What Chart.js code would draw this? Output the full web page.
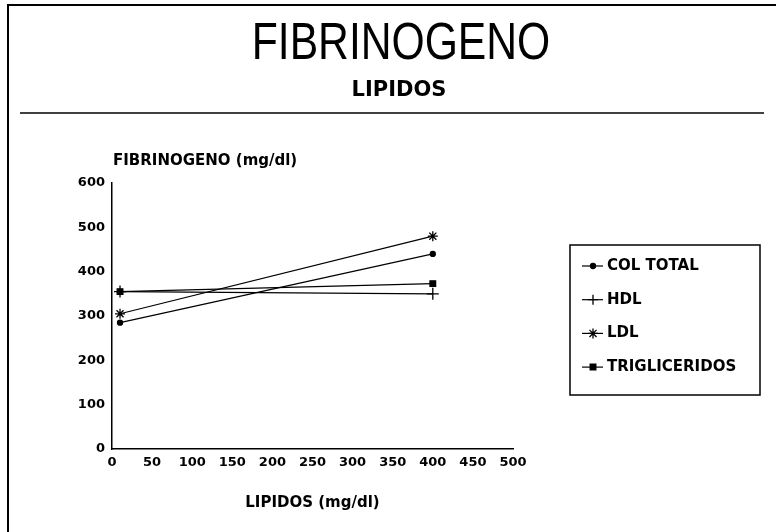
<!DOCTYPE html>
<html>
<head>
<meta charset="utf-8">
<script src="https://cdn.jsdelivr.net/npm/chart.js@4/dist/chart.umd.min.js"></script>
<style>
    html, body { margin: 0; padding: 0; background: #ffffff; }
    #wrap { width: 776px; height: 532px; position: relative; }
</style>
</head>
<body>
<div id="wrap"><canvas id="lineChart"></canvas></div>
<script>

// =====================================
// DATA
// =====================================

const lipidos = [10, 400];

const colTotal = [285, 440];
const hdl = [355, 350];
const ldl = [305, 480];
const trigliceridos = [355, 373];

const seriesNames = ["COL TOTAL", "HDL", "LDL", "TRIGLICERIDOS"];

const xTicks = [0, 50, 100, 150, 200, 250, 300, 350, 400, 450, 500];
const yTicks = [0, 100, 200, 300, 400, 500, 600];

const mainTitle = "FIBRINOGENO";
const subTitle = "LIPIDOS";
const yTitle = "FIBRINOGENO (mg/dl)";
const xTitle = "LIPIDOS (mg/dl)";

// =====================================
// HELPERS
// =====================================

const BOLD = "'DejaVu Sans', sans-serif";

function toPoints(values) {
    return lipidos.map((x, i) => ({ x: x, y: values[i] }));
}

function makeSet(label, values, style, radius) {
    return {
        label: label,
        data: toPoints(values),
        borderColor: "#000000",
        backgroundColor: "#000000",
        borderWidth: 1.2,
        pointStyle: style,
        pointRadius: radius,
        pointBorderWidth: 1.3,
        pointBorderColor: "#000000",
        pointBackgroundColor: "#000000",
        fill: false,
        tension: 0
    };
}

// frame, titles, rule, horizontal y title, boxed legend
const decorPlugin = {
    id: "decor",
    afterDraw(chart) {
        const ctx = chart.ctx;
        const area = chart.chartArea;

        ctx.save();
        ctx.strokeStyle = "#000000";
        ctx.fillStyle = "#000000";

        // outer frame (top + left)
        ctx.lineWidth = 2;
        ctx.beginPath();
        ctx.moveTo(8, 532);
        ctx.lineTo(8, 5);
        ctx.lineTo(776, 5);
        ctx.stroke();

        // main title, condensed
        ctx.save();
        ctx.translate(401, 45);
        ctx.scale(0.82, 1);
        ctx.font = "52px 'Liberation Sans', Arial, sans-serif";
        ctx.textAlign = "center";
        ctx.textBaseline = "middle";
        ctx.fillText(mainTitle, 0, 0);
        ctx.restore();

        // subtitle
        ctx.font = "bold 21px " + BOLD;
        ctx.textAlign = "center";
        ctx.textBaseline = "middle";
        ctx.fillText(subTitle, 399, 91);

        // rule under the titles
        ctx.lineWidth = 1.5;
        ctx.beginPath();
        ctx.moveTo(20, 113);
        ctx.lineTo(764, 113);
        ctx.stroke();

        // y axis title, horizontal above the axis
        ctx.font = "bold 15px " + BOLD;
        ctx.textAlign = "left";
        ctx.fillText(chart.options.scales.y.title.text, area.left + 1, 161);

        // legend box
        ctx.lineWidth = 1.5;
        ctx.strokeRect(570, 245, 190, 150);

        chart.data.datasets.forEach((ds, i) => {
            const y = 266 + i * 33.7;

            ctx.lineWidth = 1.2;
            ctx.beginPath();
            ctx.moveTo(582, y);
            ctx.lineTo(603, y);
            ctx.stroke();

            ctx.lineWidth = 1.3;
            Chart.helpers.drawPoint(ctx, {
                pointStyle: ds.pointStyle,
                radius: Math.min(ds.pointRadius, 5),
                rotation: 0,
                borderWidth: 1.3
            }, 593, y);

            ctx.font = "bold 15px " + BOLD;
            ctx.textAlign = "left";
            ctx.textBaseline = "middle";
            ctx.fillText(ds.label, 607, y);
        });

        ctx.restore();
    }
};

// =====================================
// LINE CHART
// =====================================

const ctxLine = document.getElementById("lineChart");

new Chart(ctxLine, {

    type: "line",

    data: {
        datasets: [
            makeSet(seriesNames[0], colTotal, "circle", 2.5),
            makeSet(seriesNames[1], hdl, "cross", 6),
            makeSet(seriesNames[2], ldl, "star", 5),
            makeSet(seriesNames[3], trigliceridos, "rect", 4)
        ]
    },

    options: {

        responsive: true,
        maintainAspectRatio: false,
        animation: false,

        layout: {
            padding: { top: 183, left: 0, right: 263, bottom: 0 }
        },

        plugins: {
            legend: { display: false },
            tooltip: { enabled: false }
        },

        scales: {

            x: {
                type: "linear",
                min: xTicks[0],
                max: xTicks[xTicks.length - 1],
                afterFit(scale) { scale.height = 83; },
                afterBuildTicks(scale) {
                    scale.ticks = xTicks.map(v => ({ value: v }));
                },
                grid: { display: false, drawTicks: false },
                border: { display: true, color: "#000000", width: 1.5 },
                ticks: {
                    autoSkip: false,
                    maxRotation: 0,
                    padding: 6,
                    color: "#000000",
                    font: { family: BOLD, size: 13, weight: "bold" }
                },
                title: {
                    display: true,
                    text: xTitle,
                    color: "#000000",
                    font: { family: BOLD, size: 15, weight: "bold", lineHeight: 1.2 },
                    padding: { top: 0, bottom: 20 }
                }
            },

            y: {
                min: yTicks[0],
                max: yTicks[yTicks.length - 1],
                afterFit(scale) { scale.width = 112; },
                afterBuildTicks(scale) {
                    scale.ticks = yTicks.map(v => ({ value: v }));
                },
                grid: { display: false, drawTicks: false },
                border: { display: true, color: "#000000", width: 1.5 },
                ticks: {
                    padding: 7,
                    color: "#000000",
                    font: { family: BOLD, size: 13, weight: "bold" }
                },
                title: {
                    display: false,
                    text: yTitle
                }
            }
        }
    },

    plugins: [decorPlugin]
});

</script>
</body>
</html>
